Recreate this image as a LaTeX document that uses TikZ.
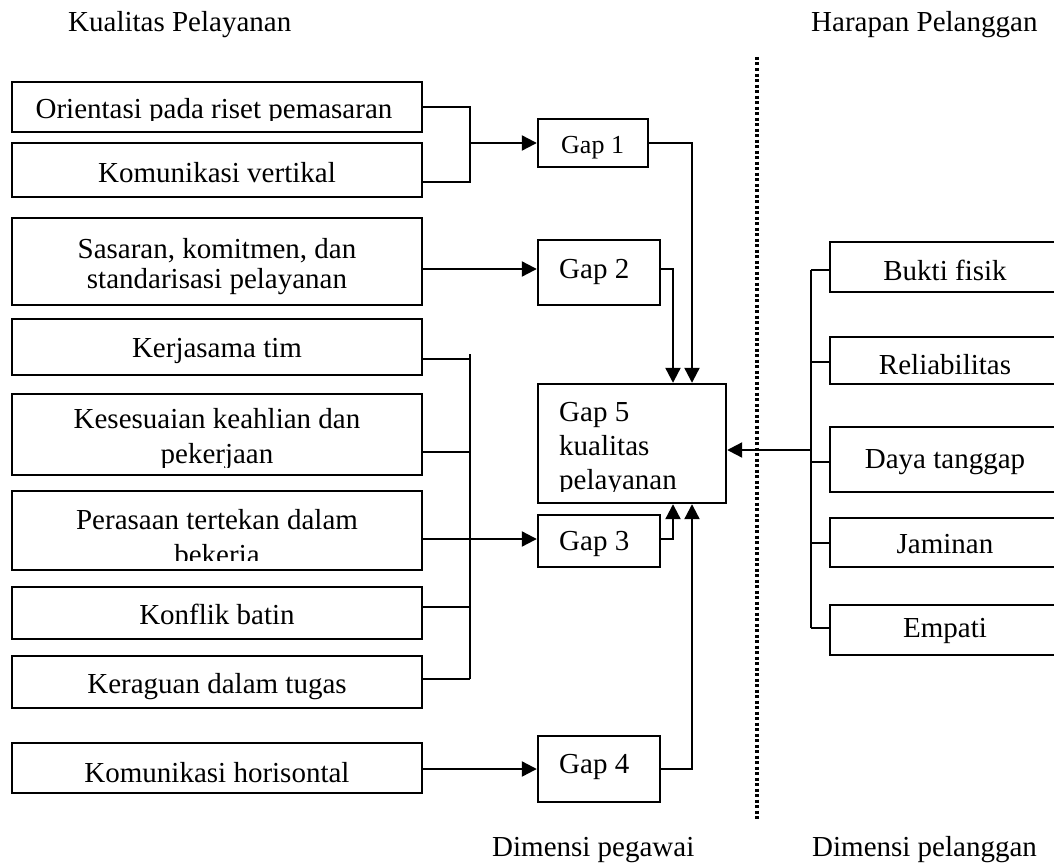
\documentclass[tikz,border=0pt]{standalone}
\usepackage{fontspec}
\setmainfont{Liberation Serif}
\usetikzlibrary{arrows.meta}
\begin{document}
\begin{tikzpicture}[x=1pt,y=-1pt,
  box/.style={draw, line width=2.4pt, inner sep=0pt},
  lbox/.style={box, minimum width=410pt},
  rbox/.style={box, minimum width=232pt},
  txt/.style={inner sep=0pt, anchor=base, font=\fontsize{29}{34}\selectfont},
  txtl/.style={txt, anchor=base west},
  conn/.style={line width=2.2pt},
  arr/.style={conn, -{Triangle[length=15pt,width=15pt]}},
  dotline/.style={line width=3.5pt, dash pattern=on 3pt off 2.5pt}]
\clip (0,0) rectangle (1054,867);
\fill[white] (0,0) rectangle (1054,867);

% headings
\node[txtl] (hKP) at (68,32) {Kualitas Pelayanan};
\node[txtl] (hHP) at (811,32) {Harapan Pelanggan};
\node[txtl] (hDP) at (492,856) {Dimensi pegawai};
\node[txtl] (hDL) at (812,856) {Dimensi pelanggan};

% dotted divider
\coordinate (d1) at (757,57);
\coordinate (d2) at (757,819);
\draw[dotline] (d1) -- (d2);

% left boxes
\node[lbox, minimum height=50pt] (ori) at (217,107) {};
\node[lbox, minimum height=54pt] (kv)  at (217,170) {};
\node[lbox, minimum height=87pt] (sas) at (217,261.5) {};
\node[lbox, minimum height=56pt] (ker) at (217,347) {};
\node[lbox, minimum height=81pt] (kes) at (217,434.5) {};
\node[lbox, minimum height=79pt] (per) at (217,530.5) {};
\node[lbox, minimum height=52pt] (kon) at (217,613) {};
\node[lbox, minimum height=52pt] (krg) at (217,682) {};
\node[lbox, minimum height=50pt] (kh)  at (217,768) {};

\begin{scope}
  \clip (12,83) rectangle (422,120.5);
  \node[txt] (tOri) at (214,118) {Orientasi pada riset pemasaran};
\end{scope}
\node[txt] (tKv) at (217,182) {Komunikasi vertikal};
\node[txt] (tSas1) at (217,258) {Sasaran, komitmen, dan};
\node[txt] (tSas2) at (217,288) {standarisasi pelayanan};
\node[txt] (tKer) at (217,357) {Kerjasama tim};
\begin{scope}
  \clip (12,395) rectangle (422,467);
  \node[txt] (tKes1) at (217,428) {Kesesuaian keahlian dan};
  \node[txt] (tKes2) at (217,463) {pekerjaan};
\end{scope}
\begin{scope}
  \clip (12,492) rectangle (422,560);
  \node[txt] (tPer1) at (217,529) {Perasaan tertekan dalam};
  \node[txt] (tPer2) at (217,564) {bekerja};
\end{scope}
\node[txt] (tKon) at (217,624) {Konflik batin};
\node[txt] (tKrg) at (217,693) {Keraguan dalam tugas};
\node[txt] (tKh) at (217,782) {Komunikasi horisontal};

% gap boxes
\node[box, minimum width=110pt, minimum height=48pt] (g1) at (593,143) {};
\node[box, minimum width=122pt, minimum height=65pt] (g2) at (599,272.5) {};
\node[box, minimum width=188pt, minimum height=119pt] (g5) at (632,443.5) {};
\node[box, minimum width=122pt, minimum height=52pt] (g3) at (599,541) {};
\node[box, minimum width=122pt, minimum height=66pt] (g4) at (599,769) {};

\node[txtl, font=\fontsize{26}{30}\selectfont] (tG1) at (561,153) {Gap 1};
\node[txtl] (tG2) at (559,278) {Gap 2};
\begin{scope}
  \clip (538,385) rectangle (726,491.5);
  \node[txtl] (tG5a) at (559,421) {Gap 5};
  \node[txtl] (tG5b) at (559,455) {kualitas};
  \node[txtl] (tG5c) at (559,489) {pelayanan};
\end{scope}
\node[txtl] (tG3) at (559,550) {Gap 3};
\node[txtl] (tG4) at (559,773) {Gap 4};

% right boxes
\node[rbox, minimum height=50pt] (bf)  at (946,267) {};
\node[rbox, minimum height=47pt] (rel) at (946,360.5) {};
\node[rbox, minimum height=65pt] (dt)  at (946,459.5) {};
\node[rbox, minimum height=49pt] (jam) at (946,542.5) {};
\node[rbox, minimum height=50pt] (emp) at (946,630) {};

\node[txt] (tBf)  at (945,280) {Bukti fisik};
\node[txt] (tRel) at (945,374) {Reliabilitas};
\node[txt] (tDt)  at (945,468) {Daya tanggap};
\node[txt] (tJam) at (945,553) {Jaminan};
\node[txt] (tEmp) at (945,637) {Empati};

% connectors: gap 1
\coordinate (j1a) at (470,107);
\coordinate (j1b) at (470,182);
\coordinate (j1c) at (470,143);
\draw[conn] (ori.east) -- (j1a) -- (j1b) -- (kv.east |- j1b);
\draw[arr] (j1c) -- (g1.west);

% gap 2
\coordinate (y269) at (0,269);
\draw[arr] (sas.east |- y269) -- (g2.west |- y269);

% gap 3 bus
\coordinate (jtop) at (470,354);
\coordinate (jk1) at (470,359);
\coordinate (jk2) at (470,452);
\coordinate (jk3) at (470,539);
\coordinate (jk4) at (470,607);
\coordinate (jk5) at (470,679);
\draw[conn] (jtop) -- (jk5);
\draw[conn] (ker.east |- jk1) -- (jk1);
\draw[conn] (kes.east |- jk2) -- (jk2);
\draw[arr] (per.east |- jk3) -- (g3.west |- jk3);
\draw[conn] (kon.east |- jk4) -- (jk4);
\draw[conn] (krg.east |- jk5) -- (jk5);

% gap 4
\draw[arr] (kh.east |- g4.west) -- (g4.west);

% into gap 5
\coordinate (x692) at (692,0);
\coordinate (x673) at (673,0);
\draw[arr] (g1.east) -| (g5.north -| x692);
\draw[arr] (g2.east |- y269) -| (g5.north -| x673);
\draw[arr] (g3.east |- jk3) -| (g5.south -| x673);
\draw[arr] (g4.east) -| (g5.south -| x692);

% right hub
\coordinate (r1) at (811,270);
\coordinate (r2) at (811,362);
\coordinate (ra) at (811,450);
\coordinate (r3) at (811,462);
\coordinate (r4) at (811,543);
\coordinate (r5) at (811,628);
\draw[conn] (r1) -- (r5);
\draw[conn] (r1) -- (bf.west |- r1);
\draw[conn] (r2) -- (rel.west |- r2);
\draw[conn] (r3) -- (dt.west |- r3);
\draw[conn] (r4) -- (jam.west |- r4);
\draw[conn] (r5) -- (emp.west |- r5);
\draw[arr] (ra) -- (g5.east |- ra);
\end{tikzpicture}
\end{document}
